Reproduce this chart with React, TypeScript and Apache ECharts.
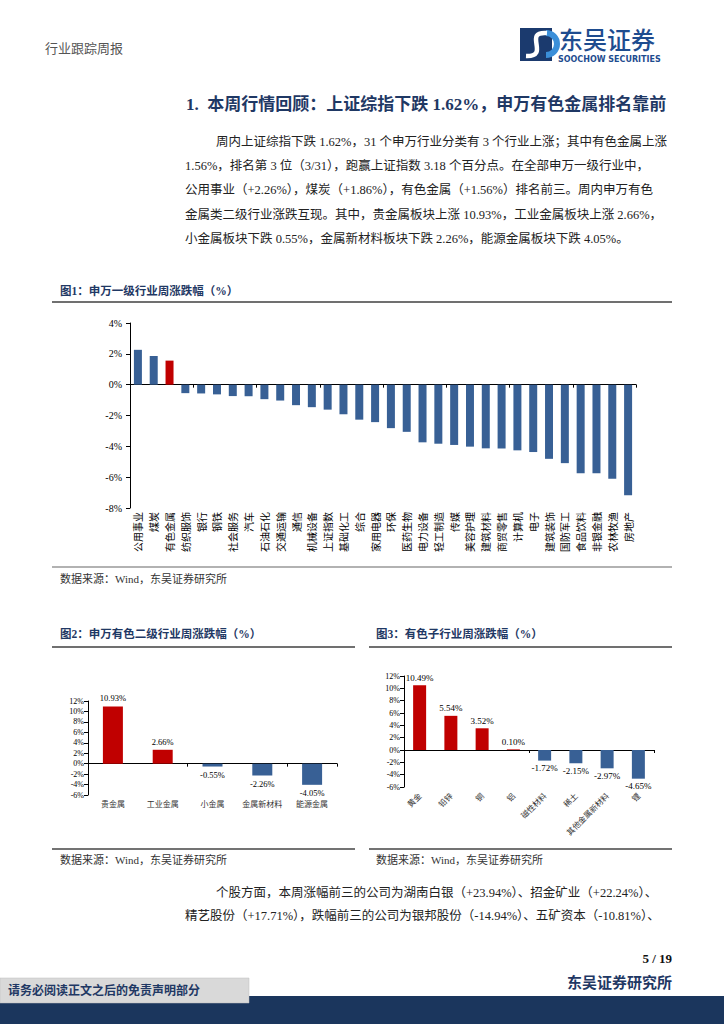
import React, { useEffect, useRef } from "react";
import * as echarts from "echarts";

// ---------- data ----------
const industries = ["公用事业", "煤炭", "有色金属", "纺织服饰", "银行", "钢铁", "社会服务", "汽车", "石油石化", "交通运输", "通信", "机械设备", "上证指数", "基础化工", "综合", "家用电器", "环保", "医药生物", "电力设备", "轻工制造", "传媒", "美容护理", "建筑材料", "商贸零售", "计算机", "电子", "建筑装饰", "国防军工", "食品饮料", "非银金融", "农林牧渔", "房地产"];
const industryChanges = [2.26, 1.86, 1.56, -0.55, -0.57, -0.63, -0.74, -0.75, -0.94, -1.03, -1.33, -1.46, -1.62, -1.92, -2.27, -2.43, -2.82, -3.06, -3.74, -3.83, -3.91, -4.02, -4.13, -4.14, -4.26, -4.37, -4.81, -5.09, -5.74, -5.75, -6.10, -7.17];
const highlightIndustry = "有色金属";
const fig1Range = [-8, 4];

const level2Names = ["贵金属", "工业金属", "小金属", "金属新材料", "能源金属"];
const level2Changes = [10.93, 2.66, -0.55, -2.26, -4.05];

const subNames = ["黄金", "铅锌", "铜", "铝", "磁性材料", "稀土", "其他金属新材料", "锂"];
const subChanges = [10.49, 5.54, 3.52, 0.10, -1.72, -2.15, -2.97, -4.65];
const fig23Range = [-6, 12];

const headerText = "行业跟踪周报";
const sectionTitle = "1.  本周行情回顾：上证综指下跌 1.62%，申万有色金属排名靠前";
const paragraph1 = [
  "周内上证综指下跌 1.62%，31 个申万行业分类有 3 个行业上涨；其中有色金属上涨",
  "1.56%，排名第 3 位（3/31），跑赢上证指数 3.18 个百分点。在全部申万一级行业中，",
  "公用事业（+2.26%），煤炭（+1.86%），有色金属（+1.56%）排名前三。周内申万有色",
  "金属类二级行业涨跌互现。其中，贵金属板块上涨 10.93%，工业金属板块上涨 2.66%，",
  "小金属板块下跌 0.55%，金属新材料板块下跌 2.26%，能源金属板块下跌 4.05%。",
];
const paragraph2 = [
  "个股方面，本周涨幅前三的公司为湖南白银（+23.94%）、招金矿业（+22.24%）、",
  "精艺股份（+17.71%），跌幅前三的公司为银邦股份（-14.94%）、五矿资本（-10.81%）、",
];
const fig1Title = "图1：申万一级行业周涨跌幅（%）";
const fig2Title = "图2：申万有色二级行业周涨跌幅（%）";
const fig3Title = "图3：有色子行业周涨跌幅（%）";
const sourceText = "数据来源：Wind，东吴证券研究所";
const pageText = "5 / 19";
const instituteText = "东吴证券研究所";
const disclaimerText = "请务必阅读正文之后的免责声明部分";

// ---------- style ----------
const NAVY = "#1F3864";
const BLUE = "#386095";
const RED = "#C00000";
const SERIF = "'Liberation Serif','Times New Roman','Noto Sans CJK SC',serif";
const CJK = "'Noto Sans CJK SC','Liberation Serif',serif";

function T(x: number, y: number, text: string, style: any = {}) {
  return {
    type: "text",
    x,
    y,
    silent: true,
    style: {
      text,
      fill: "#222",
      fontSize: 12.5,
      fontFamily: SERIF,
      align: style.align || "left",
      textAlign: style.align || "left",
      verticalAlign: "middle",
      textVerticalAlign: "middle",
      ...style,
    },
  };
}
function L(x1: number, y1: number, x2: number, y2: number, stroke = "#404040", lineWidth = 1.5) {
  return { type: "line", silent: true, shape: { x1, y1, x2, y2 }, style: { stroke, lineWidth } };
}

function valueAxis(gridIndex: number, range: number[], fontSize: number, margin: number) {
  return {
    type: "value",
    gridIndex,
    min: range[0],
    max: range[1],
    interval: 2,
    splitLine: { show: false },
    axisLine: { show: true, lineStyle: { color: "#000", width: 1 } },
    axisTick: { show: true, length: 4, lineStyle: { color: "#000" } },
    axisLabel: { formatter: "{value}%", fontSize, color: "#000", fontFamily: SERIF, margin },
  };
}
// axis carrying the category labels at the bottom of the plot
function labelAxis(gridIndex: number, data: string[], label: any) {
  return {
    type: "category",
    gridIndex,
    data,
    position: "bottom",
    axisLine: { show: false, onZero: false },
    axisTick: { show: false },
    axisLabel: { interval: 0, color: "#000", fontFamily: CJK, ...label },
  };
}
// axis drawing the line through zero with its ticks
function zeroAxis(gridIndex: number, data: string[]) {
  return {
    type: "category",
    gridIndex,
    data,
    position: "bottom",
    axisLine: { show: true, onZero: true, lineStyle: { color: "#000", width: 1 } },
    axisTick: { show: true, length: 3, lineStyle: { color: "#000" } },
    axisLabel: { show: false },
  };
}
function coloredBars(values: number[], labelFont: number, dist: number) {
  return values.map((v) => ({
    value: v,
    itemStyle: { color: v >= 0 ? RED : BLUE },
    label: {
      show: true,
      position: v >= 0 ? "top" : "bottom",
      distance: dist,
      formatter: (p: any) => Number(p.value).toFixed(2) + "%",
      fontSize: labelFont,
      fontFamily: SERIF,
      color: "#000",
    },
  }));
}

const graphics: any[] = [
  // header
  T(45, 47, headerText, { fontSize: 13, fill: "#555", fontFamily: CJK }),
  { type: "rect", silent: true, shape: { x: 520, y: 28, width: 32, height: 33 }, style: { fill: "#1B3A6E" } },
  { type: "arc", silent: true, shape: { cx: 546, cy: 44, r: 11, startAngle: -Math.PI / 2, endAngle: Math.PI / 2 }, style: { stroke: "#3B8FD9", lineWidth: 6, fill: "none" } },
  { type: "bezierCurve", silent: true, shape: { x1: 547, y1: 33, cpx1: 522, cpy1: 31, cpx2: 551, cpy2: 57, x2: 526, y2: 56 }, style: { stroke: "#fff", lineWidth: 4.5, fill: "none" } },
  T(559, 38, "东吴证券", { fontSize: 24, fill: "#1E4C8F", fontFamily: CJK, fontWeight: 500 }),
  T(558, 59.5, "SOOCHOW SECURITIES", { fontSize: 8, fontWeight: "bold", fill: "#1E4C8F", fontFamily: "'DejaVu Sans',sans-serif" }),
  // section title
  T(186, 104, sectionTitle, { fontSize: 17, fontWeight: "bold", fill: NAVY }),
  // paragraph 1
  ...paragraph1.map((s, i) => T(i === 0 ? 216 : 185, 142 + i * 24.2, s)),
  // figure 1
  T(60, 291, fig1Title, { fontSize: 11.5, fontWeight: "bold", fill: NAVY }),
  L(52, 302, 672, 302),
  L(52, 567, 672, 567, "#666", 1.2),
  T(60, 579, sourceText, { fontSize: 11, fill: "#333" }),
  // figure 2 / 3
  T(60, 634, fig2Title, { fontSize: 11.5, fontWeight: "bold", fill: NAVY }),
  L(52, 647, 355, 647),
  T(376, 634, fig3Title, { fontSize: 11.5, fontWeight: "bold", fill: NAVY }),
  L(369, 647, 672, 647),
  L(52, 849, 355, 849, "#444", 1.5),
  L(369, 849, 672, 849, "#444", 1.5),
  T(60, 860, sourceText, { fontSize: 11, fill: "#333" }),
  T(376, 860, sourceText, { fontSize: 11, fill: "#333" }),
  // paragraph 2
  ...paragraph2.map((s, i) => T(i === 0 ? 216 : 185, 893 + i * 22.5, s)),
  // footer
  T(672, 958, pageText, { fontSize: 13, fontWeight: "bold", fill: "#111", align: "right" }),
  T(672, 983, instituteText, { fontSize: 15, fontWeight: "bold", fill: NAVY, align: "right" }),
  { type: "rect", silent: true, shape: { x: 0, y: 996, width: 724, height: 28 }, style: { fill: "#1B365D" } },
  { type: "rect", silent: true, shape: { x: 0, y: 978, width: 249, height: 25 }, style: { fill: "#D9D9D9", stroke: "#BFBFBF", lineWidth: 0.5 } },
  T(8, 991, disclaimerText, { fontSize: 12, fontWeight: "bold", fill: NAVY }),
];

const option: any = {
  animation: false,
  backgroundColor: "#fff",
  grid: [
    { left: 130, top: 323, width: 506, height: 185 },
    { left: 88, top: 701, width: 249, height: 94 },
    { left: 404, top: 676, width: 250, height: 111 },
  ],
  xAxis: [
    labelAxis(0, industries, { rotate: 90, fontSize: 10, margin: 4 }),
    zeroAxis(0, industries),
    labelAxis(1, level2Names, { fontSize: 8, margin: 4, color: "#333" }),
    zeroAxis(1, level2Names),
    labelAxis(2, subNames, { rotate: 45, fontSize: 8, margin: 7, color: "#333" }),
    zeroAxis(2, subNames),
  ],
  yAxis: [
    valueAxis(0, fig1Range, 10, 8),
    valueAxis(1, fig23Range, 8, 4),
    valueAxis(2, fig23Range, 8, 4),
  ],
  series: [
    {
      type: "bar",
      xAxisIndex: 0,
      yAxisIndex: 0,
      barWidth: 8,
      data: industryChanges.map((v, i) => ({
        value: v,
        itemStyle: { color: industries[i] === highlightIndustry ? RED : BLUE },
      })),
    },
    { type: "bar", xAxisIndex: 2, yAxisIndex: 1, barWidth: 20, data: coloredBars(level2Changes, 8.5, 4) },
    { type: "bar", xAxisIndex: 4, yAxisIndex: 2, barWidth: 13, data: coloredBars(subChanges, 9, 3) },
  ],
  graphic: { elements: graphics },
};

export default function App() {
  const ref = useRef<HTMLDivElement>(null);
  useEffect(() => {
    const chart = echarts.init(ref.current!, null, { renderer: "svg" });
    chart.setOption(option);
    return () => chart.dispose();
  }, []);
  return (
    <div
      ref={ref}
      style={{ position: "absolute", left: 0, top: 0, width: 724, height: 1024, background: "#fff" }}
    />
  );
}
